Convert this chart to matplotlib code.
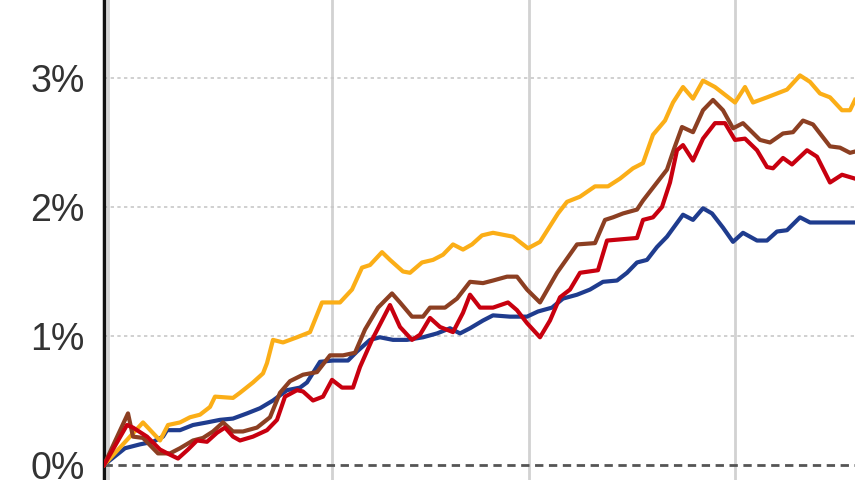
import matplotlib
matplotlib.use("Agg")
import matplotlib.pyplot as plt
from matplotlib.ticker import FuncFormatter

# x = trading day index, y = cumulative return in percent
orange_x = [0.0, 3.9, 5.6, 6.4, 7.6, 8.6, 9.6, 10.6, 11.1, 12.9, 13.6, 14.9, 15.9, 16.3, 16.9,
            17.9, 19.3, 20.6, 21.8, 23.6, 24.8, 25.8, 26.6, 27.8, 28.6, 29.9, 30.6, 31.8, 32.9,
            33.9, 34.9, 35.9, 36.8, 37.8, 38.9, 40.9, 42.4, 43.6, 45.4, 46.3, 47.6, 49.1, 50.4,
            51.6, 52.9, 53.9, 54.9, 56.1, 56.9, 57.9, 58.9, 59.9, 61.1, 63.1, 64.1, 64.9, 66.3,
            68.3, 69.6, 70.6, 71.6, 72.6, 73.8, 74.6, 75.1]
orange_y = [0.00, 0.33, 0.19, 0.31, 0.33, 0.37, 0.39, 0.45, 0.53, 0.52, 0.56, 0.64, 0.71, 0.79, 0.97,
            0.95, 0.99, 1.03, 1.26, 1.26, 1.36, 1.53, 1.55, 1.65, 1.59, 1.50, 1.49, 1.57, 1.59,
            1.63, 1.71, 1.67, 1.71, 1.78, 1.80, 1.77, 1.68, 1.73, 1.95, 2.04, 2.08, 2.16, 2.16,
            2.22, 2.30, 2.34, 2.56, 2.67, 2.81, 2.93, 2.84, 2.98, 2.93, 2.81, 2.93, 2.81, 2.85,
            2.91, 3.02, 2.97, 2.88, 2.85, 2.75, 2.75, 2.83]

brown_x = [0.0, 2.4, 2.9, 3.9, 5.4, 6.6, 7.6, 8.9, 9.9, 10.9, 11.9, 12.9, 13.9, 15.3, 16.6, 17.6,
           18.6, 19.9, 21.3, 22.6, 23.9, 25.1, 26.1, 27.4, 28.8, 29.6, 30.8, 31.9, 32.6, 34.1,
           35.3, 36.6, 37.9, 38.9, 40.3, 41.3, 42.3, 43.6, 45.3, 47.3, 49.1, 50.1, 50.9, 51.9,
           53.3, 53.9, 55.3, 56.3, 57.0, 57.8, 58.9, 59.9, 60.9, 61.9, 62.9, 63.9, 65.6, 66.6,
           67.9, 68.9, 69.9, 70.9, 72.6, 73.6, 74.6, 75.1]
brown_y = [0.00, 0.40, 0.22, 0.21, 0.09, 0.09, 0.13, 0.19, 0.21, 0.26, 0.33, 0.26, 0.26, 0.29, 0.37, 0.56,
           0.65, 0.70, 0.72, 0.85, 0.85, 0.87, 1.05, 1.22, 1.33, 1.26, 1.15, 1.15, 1.22, 1.22,
           1.29, 1.42, 1.41, 1.43, 1.46, 1.46, 1.36, 1.26, 1.49, 1.71, 1.72, 1.90, 1.92, 1.95,
           1.98, 2.05, 2.19, 2.29, 2.45, 2.62, 2.58, 2.75, 2.83, 2.75, 2.61, 2.65, 2.52, 2.50,
           2.57, 2.58, 2.67, 2.64, 2.47, 2.46, 2.42, 2.43]

red_x = [0.0, 2.3, 2.9, 4.3, 5.6, 6.6, 7.4, 8.4, 9.3, 10.3, 11.3, 12.1, 12.9, 13.6, 14.9, 16.3,
         17.3, 18.1, 19.3, 19.9, 20.9, 21.9, 22.8, 23.8, 24.9, 25.6, 26.8, 27.8, 28.6, 29.6,
         30.8, 31.6, 32.6, 33.6, 34.9, 35.9, 36.6, 37.6, 38.9, 40.4, 41.3, 42.3, 43.6, 44.6,
         45.6, 46.6, 47.6, 49.4, 50.3, 53.3, 53.9, 54.9, 55.8, 56.6, 57.3, 57.9, 58.9, 59.9,
         61.1, 62.1, 63.1, 64.1, 65.3, 66.3, 66.9, 67.9, 68.8, 70.3, 71.3, 72.6, 73.8, 75.1]
red_y = [0.00, 0.31, 0.29, 0.22, 0.12, 0.08, 0.05, 0.12, 0.19, 0.18, 0.25, 0.29, 0.22, 0.19, 0.22, 0.27,
         0.35, 0.53, 0.58, 0.57, 0.50, 0.53, 0.66, 0.60, 0.60, 0.76, 0.97, 1.12, 1.24, 1.07,
         0.97, 1.01, 1.14, 1.07, 1.03, 1.18, 1.32, 1.22, 1.22, 1.26, 1.20, 1.10, 0.99, 1.12,
         1.30, 1.36, 1.49, 1.51, 1.74, 1.76, 1.90, 1.92, 2.00, 2.19, 2.44, 2.48, 2.36, 2.53,
         2.65, 2.65, 2.52, 2.53, 2.44, 2.31, 2.30, 2.38, 2.33, 2.44, 2.39, 2.19, 2.25, 2.22]

blue_x = [0.0, 2.1, 3.6, 4.9, 5.9, 6.3, 7.6, 8.9, 10.3, 11.6, 12.9, 14.3, 15.6, 16.9, 18.3, 19.6,
          20.3, 21.6, 22.9, 24.4, 25.3, 26.6, 27.6, 28.9, 30.3, 31.9, 33.3, 34.6, 35.6, 36.6,
          37.9, 38.9, 40.6, 42.3, 43.4, 44.8, 45.9, 47.3, 48.6, 49.9, 51.3, 52.3, 53.3, 54.3,
          55.3, 56.3, 57.9, 58.9, 59.9, 60.8, 61.9, 62.9, 63.9, 65.3, 66.3, 67.3, 68.3, 69.6,
          70.6, 75.1]
blue_y = [0.00, 0.13, 0.16, 0.18, 0.22, 0.27, 0.27, 0.31, 0.33, 0.35, 0.36, 0.40, 0.44, 0.50, 0.58, 0.60,
          0.64, 0.80, 0.81, 0.81, 0.88, 0.97, 0.99, 0.97, 0.97, 0.99, 1.02, 1.06, 1.02, 1.06,
          1.12, 1.16, 1.15, 1.15, 1.19, 1.22, 1.29, 1.32, 1.36, 1.42, 1.43, 1.49, 1.57, 1.59,
          1.69, 1.77, 1.94, 1.90, 1.99, 1.95, 1.84, 1.73, 1.80, 1.74, 1.74, 1.81, 1.82, 1.92,
          1.88, 1.88]

month_marks = [0.4, 22.8, 42.5, 63.1]
y_ticks = [0, 1, 2, 3]

plt.rcParams['font.family'] = ['Liberation Sans', 'DejaVu Sans']

fig = plt.figure(figsize=(8.55, 4.8), dpi=100)
ax = fig.add_axes([104 / 855, 0, 1 - 104 / 855, 1])

# month separators
for m in month_marks:
    ax.axvline(m, color='#d2d2d2', lw=2, zorder=1)

# horizontal grid
for t in y_ticks:
    if t == 0:
        ax.axhline(t, color='#555555', lw=2, dashes=(3, 2), zorder=1)
    else:
        ax.axhline(t, color='#c8c8c8', lw=1.2, dashes=(2, 2), zorder=1)

lw = 3.0
ax.plot(blue_x, blue_y, color='#1f3c8e', lw=lw, zorder=3)
ax.plot(orange_x, orange_y, color='#fbae17', lw=lw, zorder=3)
ax.plot(brown_x, brown_y, color='#8c3f22', lw=lw, zorder=3)
ax.plot(red_x, red_y, color='#c8000f', lw=lw, zorder=4)

ax.set_xlim(0, 75.1)
ax.set_ylim(-15 / 129, 465 / 129)

ax.set_yticks(y_ticks)
ax.yaxis.set_major_formatter(FuncFormatter(lambda v, p: '%d%%' % v))
ax.tick_params(axis='y', length=0, pad=14, labelsize=27, labelcolor='#333333')
ax.set_xticks([])

for s in ['top', 'right', 'bottom']:
    ax.spines[s].set_visible(False)
ax.spines['left'].set_linewidth(2.5)
ax.spines['left'].set_color('#111111')

fig.savefig('out.png', dpi=100)
